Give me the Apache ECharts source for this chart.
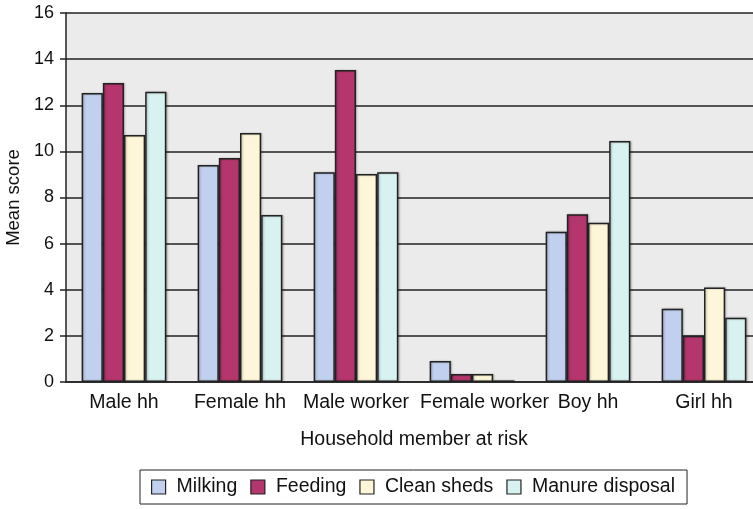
<!DOCTYPE html>
<html>
<head>
<meta charset="utf-8">
<script src="https://cdn.jsdelivr.net/npm/echarts@6/dist/echarts.min.js"></script>
<style>
  html, body { margin: 0; padding: 0; background: #fff; }
  #chart { width: 753px; height: 509px; }
</style>
</head>
<body>
<div id="chart"></div>
<script>
const categories = ['Male hh', 'Female hh', 'Male worker', 'Female worker', 'Boy hh', 'Girl hh']
const milking = [12.53, 9.41, 9.1, 0.91, 6.52, 3.18]
const feeding = [12.97, 9.71, 13.53, 0.35, 7.27, 2.01]
const cleanSheds = [10.71, 10.8, 9.02, 0.35, 6.9, 4.1]
const manureDisposal = [12.58, 7.24, 9.1, 0.07, 10.45, 2.79]

const seriesNames = ['Milking', 'Feeding', 'Clean sheds', 'Manure disposal']
const seriesData = [milking, feeding, cleanSheds, manureDisposal]
const colors = ['#c0d0ee', '#b5366c', '#fdf6d8', '#d8f1f1']

const chart = echarts.init(document.getElementById('chart'))

const font = 'Liberation Sans, Arial, sans-serif'

chart.setOption({
  animation: false,
  grid: {
    left: 66,
    right: -9,
    top: 13,
    bottom: 127,
    outerBoundsMode: 'none',
    show: true,
    backgroundColor: '#ebebeb',
    borderWidth: 0
  },
  legend: {
    data: seriesNames,
    left: 140,
    top: 470,
    padding: [7, 12, 7, 11],
    itemGap: 13,
    itemWidth: 14,
    itemHeight: 14,
    borderColor: '#222',
    borderWidth: 1,
    icon: 'rect',
    itemStyle: { borderColor: '#222', borderWidth: 1.2 },
    textStyle: { color: '#111', fontSize: 19.5, fontFamily: font, padding: [0, 0, 0, 6] }
  },
  xAxis: {
    type: 'category',
    data: categories,
    name: 'Household member at risk',
    nameLocation: 'middle',
    nameGap: 48,
    nameTextStyle: { color: '#111', fontSize: 19.5, fontFamily: font },
    axisLine: { lineStyle: { color: '#222', width: 1.5 } },
    axisTick: { show: false },
    axisLabel: {
      color: '#111', fontSize: 19.5, fontFamily: font, margin: 11, interval: 0,
      formatter: v => v === 'Female worker' ? '{s|' + v + '}' : v,
      rich: { s: { fontSize: 19.5, fontFamily: font, color: '#111', padding: [0, 0, 0, 25] } }
    }
  },
  yAxis: {
    type: 'value',
    min: 0,
    max: 16,
    interval: 2,
    name: 'Mean score',
    nameLocation: 'middle',
    nameGap: 42,
    nameTextStyle: { color: '#111', fontSize: 18.5, fontFamily: font },
    axisLine: { show: true, lineStyle: { color: '#222', width: 1.5 } },
    axisTick: { show: true, length: 6, lineStyle: { color: '#222', width: 1.5 } },
    axisLabel: { color: '#111', fontSize: 18, fontFamily: font, margin: 12 },
    splitLine: { lineStyle: { color: '#222', width: 1.5 } }
  },
  series: seriesData.map((d, i) => ({
    name: seriesNames[i],
    type: 'bar',
    data: d,
    barGap: '0%',
    barCategoryGap: '27%',
    itemStyle: {
      color: colors[i],
      borderColor: '#222',
      borderWidth: 1.5,
      shadowColor: 'rgba(0,0,0,0.25)',
      shadowBlur: 2,
      shadowOffsetX: 1,
      shadowOffsetY: 0
    }
  }))
})
</script>
</body>
</html>
